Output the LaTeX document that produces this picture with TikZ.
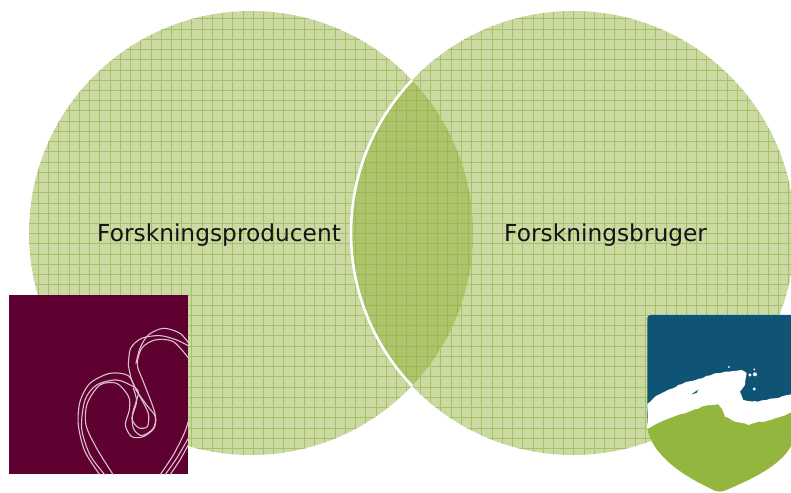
\documentclass[tikz,border=0pt]{standalone}
\usepackage{fontspec}
\setmainfont{DejaVu Sans}
\usetikzlibrary{decorations.pathmorphing}
\definecolor{basegreen}{HTML}{CBD9A3}
\definecolor{gridgreen}{HTML}{A8C068}
\definecolor{lensgreen}{HTML}{ADC46A}
\definecolor{lensgrid}{HTML}{9BB655}
\definecolor{wine}{HTML}{5E0030}
\definecolor{heartline}{HTML}{DCC0CF}
\definecolor{shieldblue}{HTML}{0F5375}
\definecolor{shieldgreen}{HTML}{92B63E}
\tikzset{
  lbl/.style={font=\fontsize{23.3}{28}\selectfont, text=black!92, inner sep=0pt, anchor=base west},
  gridln/.style={gridgreen, line width=1pt},
  strand/.style={heartline, line width=1.1pt, line cap=round},
  rough/.style={decorate, decoration={random steps, segment length=4pt, amplitude=0.7pt}}
}
\newcommand{\gridlines}[3]{%
  \foreach \k in {0,...,85}{\draw[#1] ({#2+\k*10.23},0) -- ({#2+\k*10.23},492);}
  \foreach \k in {0,...,50}{\draw[#1] (0,{#3+\k*10.23}) -- (791,{#3+\k*10.23});}
}
\begin{document}
\begin{tikzpicture}[x=1pt,y=-1pt]
\useasboundingbox (0,0) rectangle (791,492);
\fill[white] (0,0) rectangle (791,492);
% left circle
\begin{scope}
  \clip (251,233) circle [radius=222pt];
  \fill[basegreen] (0,0) rectangle (791,492);
  \gridlines{gridln}{-2.45}{-1.6}
\end{scope}
% right circle
\begin{scope}
  \clip (573,233) circle [radius=222pt];
  \fill[basegreen] (0,0) rectangle (791,492);
  \gridlines{gridln}{1.1}{-1.6}
\end{scope}
% lens
\begin{scope}
  \clip (251,233) circle [radius=222pt];
  \clip (573,233) circle [radius=222pt];
  \fill[lensgreen] (0,0) rectangle (791,492);
  \gridlines{lensgrid, line width=1pt}{-2.45}{-1.6}
\end{scope}
% white arc of the right circle inside the left one
\begin{scope}
  \clip (251,233) circle [radius=222pt];
  \draw[white, line width=2.6pt] (573,233) circle [radius=222pt];
\end{scope}
\node[lbl] (producent) at (97,241.5) {Forskningsproducent};
\node[lbl] (bruger) at (504,241.5) {Forskningsbruger};
% heart image
\fill[wine] (9,295) rectangle (188,474);
\begin{scope}
  \clip (9,295) rectangle (188,474);
  \begin{scope}[x=0.3333pt,y=-0.3333pt,shift={(0,855)}]
    \draw[strand] plot[smooth] coordinates {(300,570) (255,500) (235,420) (240,350) (270,295) (330,265) (385,272) (408,315) (440,360) (466,395) (462,430) (430,455) (395,455) (376,420) (388,375) (386,335) (350,295) (300,300) (262,355) (258,420) (290,490) (340,570)};
    \draw[strand] plot[smooth] coordinates {(315,570) (270,510) (245,430) (255,345) (290,300) (350,285) (400,305) (415,325) (398,385) (400,430) (425,452) (460,430) (465,385) (430,290) (412,240) (425,190) (465,165) (520,170) (570,225)};
    \draw[strand] plot[smooth] coordinates {(385,240) (395,285) (420,335) (445,385) (442,425) (415,428) (396,400) (410,350) (400,310)};
    \draw[strand] plot[smooth] coordinates {(385,240) (392,190) (425,160) (480,152) (530,165) (570,185)};
    \draw[strand] plot[smooth] coordinates {(408,235) (420,190) (445,150) (490,130) (540,145) (570,180)};
    \draw[strand] plot[smooth] coordinates {(480,570) (520,510) (555,440) (570,390)};
    \draw[strand] plot[smooth] coordinates {(495,570) (530,520) (565,460)};
    \draw[strand] plot[smooth] coordinates {(510,570) (540,525) (570,470)};
  \end{scope}
\end{scope}
% shield
\begin{scope}[x=0.3333pt,y=-0.3333pt,shift={(1905,915)}]
  \fill[shieldblue] (37,372) -- (37,40) to[out=90,in=180] (47,30) -- (470,30) -- (470,420) -- cycle;
  \fill[shieldgreen] (37,370) .. controls (50,440) and (120,500) .. (225,550) .. controls (240,558) and (245,560) .. (255,560) .. controls (265,560) and (275,555) .. (290,548) .. controls (380,510) and (445,470) .. (470,420) -- (470,310) -- (340,340) -- (280,320) -- (250,270) -- (37,340) -- cycle;
  \fill[white, rough] (37,297) -- (70,270) -- (130,240) -- (190,222) -- (240,205) -- (270,200) -- (320,195) -- (335,205) -- (330,240) -- (315,260) -- (325,285) -- (370,290) -- (420,280) -- (470,268) -- (470,322) -- (420,340) -- (340,360) -- (300,350) -- (270,335) -- (260,310) -- (250,298) -- (200,305) -- (150,325) -- (90,345) -- (37,372) -- cycle;
  \fill[white] (358,252) circle [radius=5] (360,208) circle [radius=6] (345,210) circle [radius=5] (282,186) circle [radius=3] (358,193) circle [radius=3];
  \fill[shieldblue] (170,268) -- (190,254) -- (185,264) -- cycle;
\end{scope}
\end{tikzpicture}
\end{document}
